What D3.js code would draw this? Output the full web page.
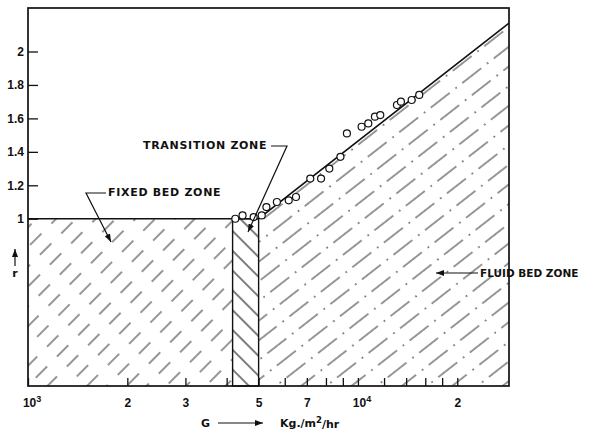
<!DOCTYPE html>
<html>
<head>
<meta charset="utf-8">
<script src="https://cdn.jsdelivr.net/npm/d3@7"></script>
<style>
body { margin: 0; background: #fff; }
text { font-family: "DejaVu Sans", sans-serif; fill: #111; }
.axis text { font-family: "Liberation Sans", sans-serif; font-size: 12px; font-weight: bold; }
.zone-label { font-size: 11px; font-weight: bold; letter-spacing: 0.7px; }
</style>
</head>
<body>
<svg id="chart" width="590" height="436"></svg>
<script>
// measured points: mass velocity G (kg/m2/hr) and r
const pointG = [4250, 4470, 4830, 5110, 5280, 5680, 6170, 6490, 7170, 7730, 8190,
                8850, 9260, 10260, 10750, 11260, 11690, 13130, 13500, 14550, 15340];
const pointR = [1.00, 1.02, 1.01, 1.02, 1.07, 1.10, 1.11, 1.13, 1.24, 1.24, 1.30,
                1.37, 1.51, 1.55, 1.57, 1.61, 1.62, 1.68, 1.70, 1.71, 1.74];

// boundary line between the zones
const boundaryG = [1000, 5000, 28700];
const boundaryR = [1, 1, 2.17];

// zones along G
const zoneNames = ['FIXED BED ZONE', 'TRANSITION ZONE', 'FLUID BED ZONE'];
const zoneStart = [1000, 4170, 5000];
const zoneEnd = [4170, 5000, 28700];

const yTicks = [1, 1.2, 1.4, 1.6, 1.8, 2];
const xTicks = [1000, 2000, 3000, 4000, 5000, 6000, 7000, 8000, 9000,
                10000, 12000, 14000, 16000, 18000, 20000];
const xLabelValues = [1000, 2000, 3000, 5000, 7000, 10000, 20000];
const xLabelText = ['10^3', '2', '3', '5', '7', '10^4', '2'];

const chartSize = { width: 590, height: 436 };
const margin = { left: 28, right: 81, top: 8, bottom: 50 };
const width = chartSize.width - margin.left - margin.right;
const height = chartSize.height - margin.top - margin.bottom;

const svg = d3.select('#chart');
const defs = svg.append('defs');

const hatch = (id, spacing, period, angle, draw) => {
    const p = defs.append('pattern')
        .attr('id', id)
        .attr('patternUnits', 'userSpaceOnUse')
        .attr('width', spacing)
        .attr('height', period)
        .attr('patternTransform', `rotate(${angle})`);
    draw(p);
};

hatch('fixedHatch', 14, 30, 45, p => {
    p.append('line').attr('x1', 1).attr('x2', 1).attr('y1', 0).attr('y2', 16)
        .attr('stroke', '#222').attr('stroke-width', 0.95);
});
hatch('transHatch', 14, 10, -45, p => {
    p.append('line').attr('x1', 1).attr('x2', 1).attr('y1', 0).attr('y2', 10)
        .attr('stroke', '#111').attr('stroke-width', 1.1);
});
hatch('fluidHatch', 15.5, 40, 52, p => {
    p.append('line').attr('x1', 1).attr('x2', 1).attr('y1', 0).attr('y2', 24)
        .attr('stroke', '#222').attr('stroke-width', 0.95);
    p.append('line').attr('x1', 1).attr('x2', 1).attr('y1', 31).attr('y2', 32.5)
        .attr('stroke', '#222').attr('stroke-width', 1.3);
});

defs.append('marker')
    .attr('id', 'arrow')
    .attr('markerUnits', 'userSpaceOnUse')
    .attr('markerWidth', 8).attr('markerHeight', 6)
    .attr('refX', 8).attr('refY', 3)
    .attr('orient', 'auto')
    .append('path').attr('d', 'M0,0 L8,3 L0,6 Z').attr('fill', '#111');

const g = svg.append('g')
    .attr('transform', `translate(${margin.left},${margin.top})`);

const x = d3.scaleLog().domain([1000, 28700]).range([0, width]);
const y = d3.scaleLinear().domain([0, 2.26]).range([height, 0]);

// fixed bed and transition zones
g.append('rect')
    .attr('x', x(zoneStart[0])).attr('y', y(1))
    .attr('width', x(zoneEnd[0]) - x(zoneStart[0]))
    .attr('height', y(0) - y(1))
    .attr('fill', 'url(#fixedHatch)');

g.append('rect')
    .attr('x', x(zoneStart[1])).attr('y', y(1))
    .attr('width', x(zoneEnd[1]) - x(zoneStart[1]))
    .attr('height', y(0) - y(1))
    .attr('fill', 'url(#transHatch)')
    .attr('stroke', '#111').attr('stroke-width', 1.4);

// fluid bed zone under the rising line
const boundary = boundaryG.map((G, i) => ({ G, r: boundaryR[i] }));
const fluid = boundary.filter(d => d.G >= zoneStart[2]);
g.append('path')
    .datum(fluid)
    .attr('d', d3.area().x(d => x(d.G)).y0(y(0)).y1(d => y(d.r)))
    .attr('fill', 'url(#fluidHatch)');

g.append('path')
    .datum(boundary)
    .attr('d', d3.line().x(d => x(d.G)).y(d => y(d.r)))
    .attr('fill', 'none').attr('stroke', '#111').attr('stroke-width', 1.6);

// frame
g.append('rect')
    .attr('width', width).attr('height', height)
    .attr('fill', 'none').attr('stroke', '#111').attr('stroke-width', 1.7);

// axes
const yAxis = d3.axisLeft(y).tickValues(yTicks).tickSize(-10).tickPadding(4)
    .tickFormat(d3.format('~g'));
g.append('g').attr('class', 'axis').call(yAxis)
    .call(a => a.select('.domain').remove())
    .selectAll('line').attr('stroke', '#111').attr('stroke-width', 1.3);

const xAxis = d3.axisBottom(x).tickValues(xTicks).tickSize(-8).tickPadding(12)
    .tickFormat(d => {
        const i = xLabelValues.indexOf(d);
        return i < 0 ? '' : xLabelText[i];
    });
const xg = g.append('g').attr('class', 'axis')
    .attr('transform', `translate(0,${height})`)
    .call(xAxis)
    .call(a => a.select('.domain').remove());
xg.selectAll('line').attr('stroke', '#111').attr('stroke-width', 1.3);
xg.selectAll('text').each(function (t) {
    const s = d3.select(this).text();
    if (s.includes('^')) {
        const [base, exp] = s.split('^');
        const el = d3.select(this).text(base);
        el.append('tspan').attr('dy', '-0.45em').attr('font-size', '9px').text(exp);
        el.attr('dx', '0.3em');
    }
});

// data points
g.selectAll('.pt')
    .data(pointG.map((G, i) => ({ G, r: pointR[i] })))
    .enter()
    .append('circle')
    .attr('class', 'pt')
    .attr('cx', d => x(d.G))
    .attr('cy', d => y(d.r))
    .attr('r', 3.5)
    .attr('fill', '#fff')
    .attr('stroke', '#111')
    .attr('stroke-width', 1.2);

// zone labels with leaders
const leader = (pts) => svg.append('path')
    .attr('d', d3.line()(pts))
    .attr('fill', 'none').attr('stroke', '#111').attr('stroke-width', 1.2)
    .attr('marker-end', 'url(#arrow)');

svg.append('text').attr('class', 'zone-label').attr('x', 108).attr('y', 196).text(zoneNames[0]);
leader([[106, 193], [86, 193], [111, 242]]);

svg.append('text').attr('class', 'zone-label').attr('x', 143).attr('y', 149).text(zoneNames[1]);
leader([[271, 146], [287, 146], [248, 232]]);

svg.append('text').attr('class', 'zone-label').attr('x', 480).attr('y', 277)
    .style('letter-spacing', '0px').style('font-size', '10.5px').text(zoneNames[2]);
leader([[478, 273], [436, 273]]);

// axis titles
leader([[15, 266], [15, 249]]);
svg.append('text').attr('x', 15).attr('y', 277).attr('text-anchor', 'middle')
    .attr('font-size', '11px').attr('font-weight', 'bold').text('r');

svg.append('text').attr('x', 201).attr('y', 427)
    .attr('font-size', '11px').attr('font-weight', 'bold').text('G');
leader([[218, 423], [263, 423]]);
const unit = svg.append('text').attr('x', 280).attr('y', 427)
    .attr('font-size', '11px').attr('font-weight', 'bold');
unit.append('tspan').text('Kg./m');
unit.append('tspan').attr('dy', '-0.45em').attr('font-size', '8.5px').text('2');
unit.append('tspan').attr('dy', '0.45em').text('/hr');
</script>
</body>
</html>
